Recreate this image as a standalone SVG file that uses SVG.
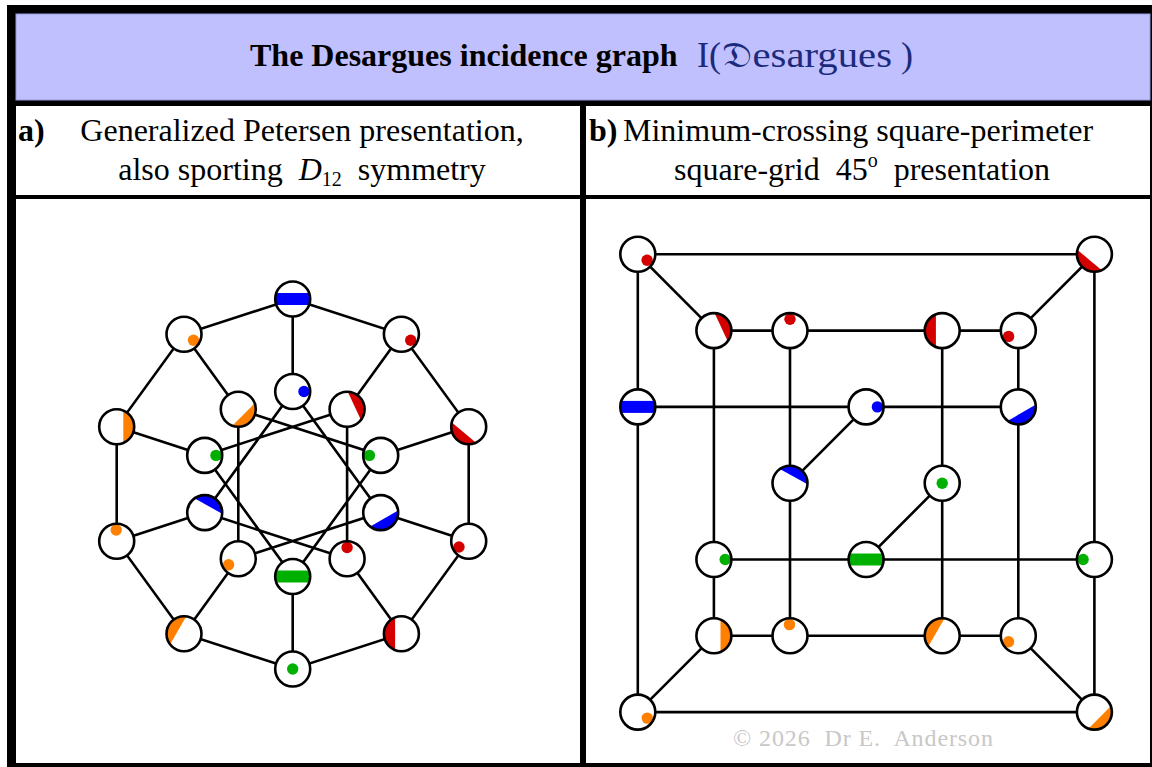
<svg xmlns="http://www.w3.org/2000/svg" xmlns:xlink="http://www.w3.org/1999/xlink" width="1152" height="767" viewBox="0 0 1152 767">
<style>
.e{stroke:#000;stroke-width:2.6;fill:none;stroke-linecap:round}
.bg{fill:#fff}
.rim{fill:none;stroke:#000;stroke-width:2.6}
.R{fill:#d40000}.B{fill:#0000ff}.G{fill:#00b000}.O{fill:#ff8000}
.t{font-family:"Liberation Serif","Times New Roman",serif;fill:#000}
.hd{font-size:32px}
.ti{font-size:32px;font-weight:bold}
.bl{fill:#1c2a7c}
.cp{font-family:"Liberation Serif",serif;font-size:24px;fill:#c8c8c8}
</style>
<defs>
<clipPath id="nc"><circle r="17.5"/></clipPath>
<g id="dO0" clip-path="url(#nc)"><rect class="B" x="-20" y="-6" width="40" height="12"/></g>
<g id="dO1"><circle class="R" cx="9.3" cy="6" r="5.7"/></g>
<g id="dO2" clip-path="url(#nc)"><rect class="R" x="7.5" y="-20" width="20" height="40" transform="rotate(130)"/></g>
<g id="dO3"><circle class="R" cx="-9.7" cy="5.8" r="5.7"/></g>
<g id="dO4" clip-path="url(#nc)"><rect class="R" x="6.3" y="-20" width="20" height="40" transform="rotate(180)"/></g>
<g id="dO5"><circle class="G" cx="0" cy="0" r="5.7"/></g>
<g id="dO6" clip-path="url(#nc)"><rect class="O" x="6.7" y="-20" width="20" height="40" transform="rotate(-150)"/></g>
<g id="dO7"><circle class="O" cx="-0.5" cy="-11.2" r="5.7"/></g>
<g id="dO8" clip-path="url(#nc)"><rect class="O" x="6.6" y="-20" width="20" height="40"/></g>
<g id="dO9"><circle class="O" cx="9.5" cy="6" r="5.7"/></g>
<g id="dI0"><circle class="B" cx="11.3" cy="0" r="5.7"/></g>
<g id="dI1" clip-path="url(#nc)"><rect class="R" x="8" y="-20" width="20" height="40" transform="rotate(-25)"/></g>
<g id="dI2"><circle class="G" cx="-11.3" cy="0" r="5.7"/></g>
<g id="dI3" clip-path="url(#nc)"><rect class="B" x="6.8" y="-20" width="20" height="40" transform="rotate(60)"/></g>
<g id="dI4"><circle class="R" cx="0" cy="-11.3" r="5.7"/></g>
<g id="dI5" clip-path="url(#nc)"><rect class="G" x="-20" y="-6" width="40" height="12"/></g>
<g id="dI6"><circle class="O" cx="-9.7" cy="6" r="5.7"/></g>
<g id="dI7" clip-path="url(#nc)"><rect class="B" x="7.5" y="-20" width="20" height="40" transform="rotate(-61)"/></g>
<g id="dI8"><circle class="G" cx="11.3" cy="0" r="5.7"/></g>
<g id="dI9" clip-path="url(#nc)"><rect class="O" x="7.5" y="-20" width="20" height="40" transform="rotate(45)"/></g>
</defs>

<g id="frame">
<rect x="7" y="5" width="1145" height="762" fill="#000"/>
<rect x="16" y="14" width="1134" height="86" fill="#c0c0ff" stroke="#9a9ae0" stroke-width="1"/>
<rect x="16" y="106" width="564" height="89" fill="#fff"/>
<rect x="586" y="106" width="564" height="89" fill="#fff"/>
<rect x="16" y="199" width="564" height="564" fill="#fff"/>
<rect x="586" y="199" width="564" height="564" fill="#fff"/>
</g>

<g id="texts">
<text class="t ti" x="250" y="66">The Desargues incidence graph</text>
<text class="t bl" x="697" y="67" font-size="36">I(</text>
<text class="t bl" x="722" y="67" font-size="36" textLength="170" lengthAdjust="spacingAndGlyphs"><tspan font-family="DejaVu Serif,DejaVu Sans,serif">𝔇</tspan>esargues</text>
<text class="t bl" x="901" y="67" font-size="36">)</text>
<text class="t hd" x="18" y="141" font-weight="bold">a)</text>
<text class="t hd" x="302" y="141" text-anchor="middle">Generalized Petersen presentation,</text>
<text class="t hd" x="302" y="180" text-anchor="middle" xml:space="preserve">also sporting  <tspan font-style="italic">D</tspan><tspan font-size="20" dy="6">12</tspan><tspan dy="-6">  symmetry</tspan></text>
<text class="t hd" x="589" y="141" font-weight="bold">b)</text>
<text class="t hd" x="623" y="141">Minimum-crossing square-perimeter</text>
<text class="t hd" x="862" y="180" text-anchor="middle" xml:space="preserve">square-grid  45<tspan font-size="20" dy="-13">o</tspan><tspan dy="13">  presentation</tspan></text>
<text class="cp" x="733" y="746" textLength="260" lengthAdjust="spacing" xml:space="preserve">© 2026  Dr E.  Anderson</text>
</g>

<g id="connectors-a">
<path class="e" d="M292.7 299 L401.4 334.3 L468.7 426.8 L468.7 541.2 L401.4 633.7 L292.7 669 L184 633.7 L116.7 541.2 L116.7 426.8 L184 334.3 Z"/>
<path class="e" d="M292.7 299 L292.7 391.5 M401.4 334.3 L347.1 409.2 M468.7 426.8 L380.7 455.4 M468.7 541.2 L380.7 512.6 M401.4 633.7 L347.1 558.8 M292.7 669 L292.7 576.5 M184 633.7 L238.3 558.8 M116.7 541.2 L204.7 512.6 M116.7 426.8 L204.7 455.4 M184 334.3 L238.3 409.2"/>
<path class="e" d="M292.7 391.5 L380.7 512.6 L238.3 558.8 L238.3 409.2 L380.7 455.4 L292.7 576.5 L204.7 455.4 L347.1 409.2 L347.1 558.8 L204.7 512.6 Z"/>
</g>

<g id="connectors-b">
<path class="e" d="M637.8 254.3 H1094.4 V712.1 H637.8 Z"/>
<path class="e" d="M637.8 254.3 L713.9 330.6 M1094.4 254.3 L1018.3 330.6 M637.8 712.1 L713.9 635.8 M1094.4 712.1 L1018.3 635.8"/>
<path class="e" d="M713.9 330.6 H1018.3 M713.9 635.8 H1018.3 M713.9 330.6 V635.8 M790 330.6 V635.8 M942.2 330.6 V635.8 M1018.3 330.6 V635.8 M637.8 406.9 H1018.3 M713.9 559.5 H1094.4"/>
<path class="e" d="M866.1 406.9 L790 483.2 M942.2 483.2 L866.1 559.5"/>
</g>

<g id="nodes-a">
<g id="a-o0" transform="translate(292.7,299)"><circle class="bg" r="17.5"/><use href="#dO0"/><circle class="rim" r="17.5"/></g>
<g id="a-o1" transform="translate(401.4,334.3)"><circle class="bg" r="17.5"/><use href="#dO1"/><circle class="rim" r="17.5"/></g>
<g id="a-o2" transform="translate(468.7,426.8)"><circle class="bg" r="17.5"/><use href="#dO2"/><circle class="rim" r="17.5"/></g>
<g id="a-o3" transform="translate(468.7,541.2)"><circle class="bg" r="17.5"/><use href="#dO3"/><circle class="rim" r="17.5"/></g>
<g id="a-o4" transform="translate(401.4,633.7)"><circle class="bg" r="17.5"/><use href="#dO4"/><circle class="rim" r="17.5"/></g>
<g id="a-o5" transform="translate(292.7,669)"><circle class="bg" r="17.5"/><use href="#dO5"/><circle class="rim" r="17.5"/></g>
<g id="a-o6" transform="translate(184,633.7)"><circle class="bg" r="17.5"/><use href="#dO6"/><circle class="rim" r="17.5"/></g>
<g id="a-o7" transform="translate(116.7,541.2)"><circle class="bg" r="17.5"/><use href="#dO7"/><circle class="rim" r="17.5"/></g>
<g id="a-o8" transform="translate(116.7,426.8)"><circle class="bg" r="17.5"/><use href="#dO8"/><circle class="rim" r="17.5"/></g>
<g id="a-o9" transform="translate(184,334.3)"><circle class="bg" r="17.5"/><use href="#dO9"/><circle class="rim" r="17.5"/></g>
<g id="a-i0" transform="translate(292.7,391.5)"><circle class="bg" r="17.5"/><use href="#dI0"/><circle class="rim" r="17.5"/></g>
<g id="a-i1" transform="translate(347.1,409.2)"><circle class="bg" r="17.5"/><use href="#dI1"/><circle class="rim" r="17.5"/></g>
<g id="a-i2" transform="translate(380.7,455.4)"><circle class="bg" r="17.5"/><use href="#dI2"/><circle class="rim" r="17.5"/></g>
<g id="a-i3" transform="translate(380.7,512.6)"><circle class="bg" r="17.5"/><use href="#dI3"/><circle class="rim" r="17.5"/></g>
<g id="a-i4" transform="translate(347.1,558.8)"><circle class="bg" r="17.5"/><use href="#dI4"/><circle class="rim" r="17.5"/></g>
<g id="a-i5" transform="translate(292.7,576.5)"><circle class="bg" r="17.5"/><use href="#dI5"/><circle class="rim" r="17.5"/></g>
<g id="a-i6" transform="translate(238.3,558.8)"><circle class="bg" r="17.5"/><use href="#dI6"/><circle class="rim" r="17.5"/></g>
<g id="a-i7" transform="translate(204.7,512.6)"><circle class="bg" r="17.5"/><use href="#dI7"/><circle class="rim" r="17.5"/></g>
<g id="a-i8" transform="translate(204.7,455.4)"><circle class="bg" r="17.5"/><use href="#dI8"/><circle class="rim" r="17.5"/></g>
<g id="a-i9" transform="translate(238.3,409.2)"><circle class="bg" r="17.5"/><use href="#dI9"/><circle class="rim" r="17.5"/></g>
</g>

<g id="nodes-b">
<g id="b-00" transform="translate(637.8,254.3)"><circle class="bg" r="17.5"/><use href="#dO1"/><circle class="rim" r="17.5"/></g>
<g id="b-60" transform="translate(1094.4,254.3)"><circle class="bg" r="17.5"/><use href="#dO2"/><circle class="rim" r="17.5"/></g>
<g id="b-11" transform="translate(713.9,330.6)"><circle class="bg" r="17.5"/><use href="#dI1"/><circle class="rim" r="17.5"/></g>
<g id="b-21" transform="translate(790,330.6)"><circle class="bg" r="17.5"/><use href="#dI4"/><circle class="rim" r="17.5"/></g>
<g id="b-41" transform="translate(942.2,330.6)"><circle class="bg" r="17.5"/><use href="#dO4"/><circle class="rim" r="17.5"/></g>
<g id="b-51" transform="translate(1018.3,330.6)"><circle class="bg" r="17.5"/><use href="#dO3"/><circle class="rim" r="17.5"/></g>
<g id="b-02" transform="translate(637.8,406.9)"><circle class="bg" r="17.5"/><use href="#dO0"/><circle class="rim" r="17.5"/></g>
<g id="b-32" transform="translate(866.1,406.9)"><circle class="bg" r="17.5"/><use href="#dI0"/><circle class="rim" r="17.5"/></g>
<g id="b-52" transform="translate(1018.3,406.9)"><circle class="bg" r="17.5"/><use href="#dI3"/><circle class="rim" r="17.5"/></g>
<g id="b-23" transform="translate(790,483.2)"><circle class="bg" r="17.5"/><use href="#dI7"/><circle class="rim" r="17.5"/></g>
<g id="b-43" transform="translate(942.2,483.2)"><circle class="bg" r="17.5"/><use href="#dO5"/><circle class="rim" r="17.5"/></g>
<g id="b-14" transform="translate(713.9,559.5)"><circle class="bg" r="17.5"/><use href="#dI8"/><circle class="rim" r="17.5"/></g>
<g id="b-34" transform="translate(866.1,559.5)"><circle class="bg" r="17.5"/><use href="#dI5"/><circle class="rim" r="17.5"/></g>
<g id="b-64" transform="translate(1094.4,559.5)"><circle class="bg" r="17.5"/><use href="#dI2"/><circle class="rim" r="17.5"/></g>
<g id="b-15" transform="translate(713.9,635.8)"><circle class="bg" r="17.5"/><use href="#dO8"/><circle class="rim" r="17.5"/></g>
<g id="b-25" transform="translate(790,635.8)"><circle class="bg" r="17.5"/><use href="#dO7"/><circle class="rim" r="17.5"/></g>
<g id="b-45" transform="translate(942.2,635.8)"><circle class="bg" r="17.5"/><use href="#dO6"/><circle class="rim" r="17.5"/></g>
<g id="b-55" transform="translate(1018.3,635.8)"><circle class="bg" r="17.5"/><use href="#dI6"/><circle class="rim" r="17.5"/></g>
<g id="b-06" transform="translate(637.8,712.1)"><circle class="bg" r="17.5"/><use href="#dO9"/><circle class="rim" r="17.5"/></g>
<g id="b-66" transform="translate(1094.4,712.1)"><circle class="bg" r="17.5"/><use href="#dI9"/><circle class="rim" r="17.5"/></g>
</g>
</svg>
